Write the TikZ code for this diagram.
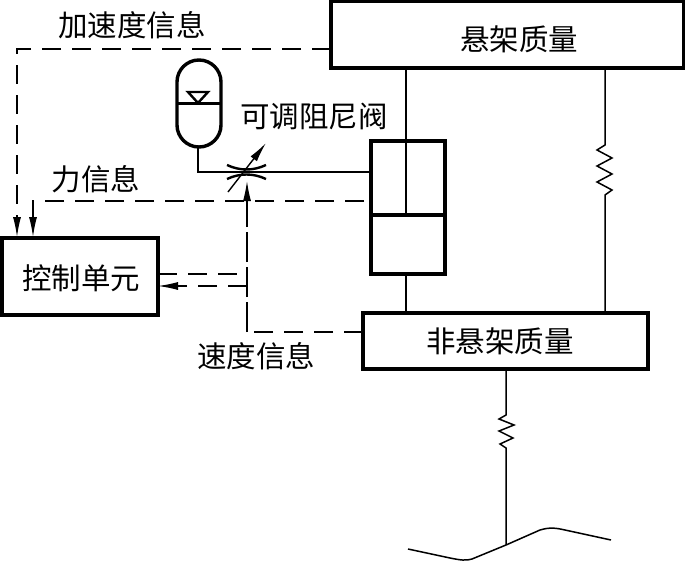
\documentclass[tikz,border=0pt]{standalone}
\usepackage{fontspec}
\setmainfont{Noto Sans CJK SC}
\usetikzlibrary{arrows.meta}
\tikzset{
  box/.style={draw=black,line width=3.4pt,fill=white,inner sep=0pt,outer sep=0pt,anchor=north west},
  lbl/.style={inner sep=0pt,font=\fontsize{29.5}{29.5}\selectfont},
  thin line/.style={line width=1.5pt},
  info/.style={line width=1.2pt,dash pattern=on 19pt off 11pt},
  infov/.style={line width=1.2pt,dash pattern=on 30pt off 5pt},
  tip/.style={-{Latex[length=20pt,width=8pt,inset=6pt]}},
}
\begin{document}
\begin{tikzpicture}[x=1pt,y=-1pt,line join=miter]
\useasboundingbox (0,0) rectangle (685,562);
% boxes
\node[box,minimum width=353pt,minimum height=67pt] (sprung) at (331,1) {};
\node[lbl] at (519,39) {悬架质量};
\node[box,minimum width=285pt,minimum height=56pt] (unsprung) at (363,313) {};
\node[lbl] at (500,341) {非悬架质量};
\node[box,minimum width=156pt,minimum height=77pt] (ctrl) at (2,238) {};
\node[lbl] (ctrltext) at (81,278) {控制单元};
\node[box,fill=none,minimum width=74pt,minimum height=133pt] (cyl) at (371,141) {};
\coordinate (pl) at (371,215);
\coordinate (pr) at (445,215);
\draw[line width=3.4pt] (pl) -- (pr);
% rods
\draw[thin line] (406,68) -- (406,215);
\draw[thin line] (406,274) -- (406,313);
% right spring
\draw[thin line] (605,68) -- (605,145) -- (597,150) -- (612,158) -- (597,166) -- (612,174) -- (597,182) -- (612,190) -- (605,195) -- (605,313);
% lower spring and road
\draw[thin line] (506,369) -- (506,415) -- (499,419) -- (514,425) -- (499,431) -- (513,438) -- (500,444) -- (506,448) -- (506,545);
\coordinate (r1) at (408,549);
\coordinate (r2) at (506,545);
\coordinate (r3) at (611,540);
\draw[line width=1.5pt] (r1) -- (450,558) .. controls (460,560) and (466,561) .. (472,559) -- (r2) -- (540,530) .. controls (550,527) and (556,528) .. (565,530) -- (r3);
% accumulator
\draw[line width=3.4pt] (177,82) arc (180:360:22) -- (221,125) arc (0:180:22) -- cycle;
\draw[line width=3pt] (177,103) -- (221,103);
\draw[line width=2.4pt] (188,92) -- (208,92) -- (198,103) -- cycle;
\draw[thin line] (198,147) -- (198,172) -- (371,172);
% valve
\draw[line width=2.4pt] (227,165) .. controls (240,171) and (253,171) .. (266,165);
\draw[line width=2.4pt] (227,179) .. controls (240,173) and (253,173) .. (266,179);
\draw[line width=1.4pt,tip] (228,192) -- (266,143);
% info lines
\coordinate (corner) at (247,332);
\draw[info,tip] (331,49) -- (17,49) -- (17,237);
\draw[info,tip] (364,201) -- (33,201) -- (33,237);
\draw[info] (unsprung.west |- corner) -- (corner);
\draw[infov,tip] (corner) -- (247,181);
\draw[info] (ctrl.east |- 0,274) -- (247,274);
\draw[info,tip] (247,286) -- (ctrl.east |- 0,286);
% labels
\node[lbl] at (132,25) {加速度信息};
\node[lbl] at (96,179) {力信息};
\node[lbl] at (314,116) {可调阻尼阀};
\node[lbl] at (256,356) {速度信息};
\end{tikzpicture}
\end{document}
